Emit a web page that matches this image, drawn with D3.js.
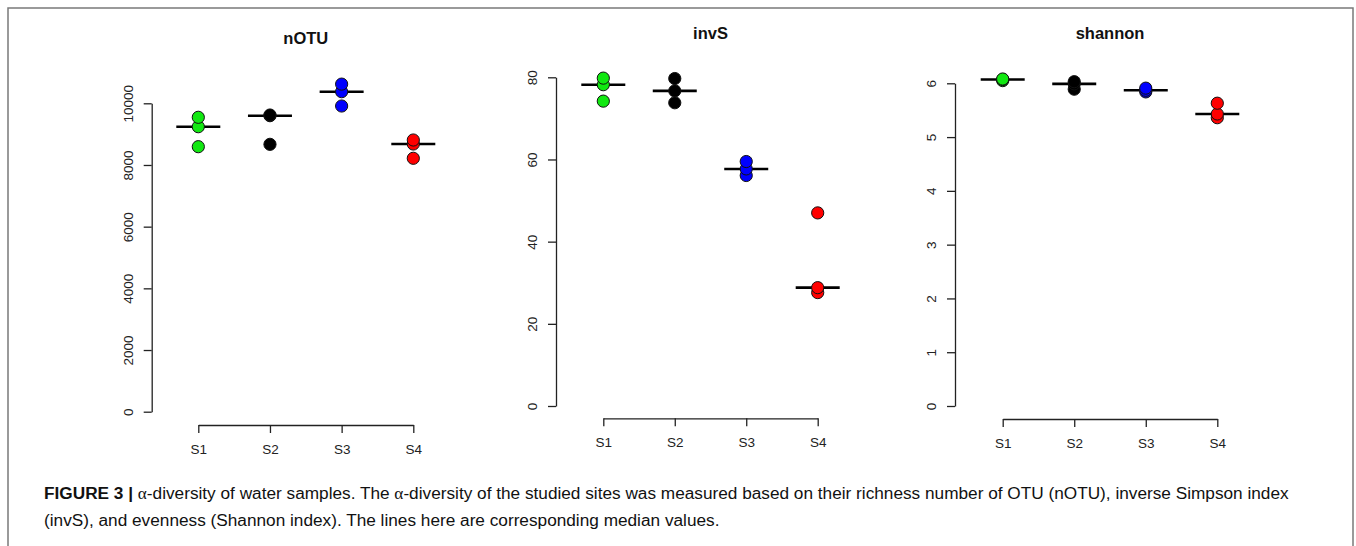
<!DOCTYPE html>
<html>
<head>
<meta charset="utf-8">
<script src="https://cdn.jsdelivr.net/npm/d3@7/dist/d3.min.js"></script>
<style>
  html, body { margin: 0; padding: 0; background: #fff; }
  svg { display: block; }
  text { font-family: "Liberation Sans", Arial, Helvetica, sans-serif; }
</style>
</head>
<body>
<svg id="chart" width="1356" height="546"></svg>
<script>
// ---- data ----
const sites = ["S1", "S2", "S3", "S4"];
const siteColors = ["#11e811", "#000000", "#0000ff", "#ff0000"];
const nOTUValues = [
  [9546, 9241, 8593],
  [9620, 9598, 8670],
  [10622, 10376, 9912],
  [8810, 8680, 8217]
];
const invSValues = [
  [79.8, 78.2, 74.2],
  [79.7, 76.7, 73.8],
  [59.5, 57.7, 56.1],
  [47.0, 28.8, 27.6]
];
const shannonValues = [
  [6.08, 6.07, 6.05],
  [6.03, 5.99, 5.89],
  [5.91, 5.87, 5.84],
  [5.63, 5.43, 5.36]
];
const nOTUTicks = [0, 2000, 4000, 6000, 8000, 10000];
const invSTicks = [0, 20, 40, 60, 80];
const shannonTicks = [0, 1, 2, 3, 4, 5, 6];
const panelTitles = ["nOTU", "invS", "shannon"];
const captionBold = "FIGURE 3 | ";
const captionLine1 = "-diversity of water samples. The ";
const captionLine1b = "-diversity of the studied sites was measured based on their richness number of OTU (nOTU), inverse Simpson index";
const captionLine2 = "(invS), and evenness (Shannon index). The lines here are corresponding median values.";

// ---- layout ----
const panels = [
  { title: panelTitles[0], values: nOTUValues, ticks: nOTUTicks,
    axisX: 151.7, y0: 411.7, yTop: 103.3, x1: 198.3, x2: 413.3, bottomY: 425, titleY: 38 },
  { title: panelTitles[1], values: invSValues, ticks: invSTicks,
    axisX: 556, y0: 406, yTop: 77.3, x1: 603.3, x2: 817.7, bottomY: 418.3, titleY: 33 },
  { title: panelTitles[2], values: shannonValues, ticks: shannonTicks,
    axisX: 955, y0: 406, yTop: 83.3, x1: 1002.7, x2: 1217.3, bottomY: 419, titleY: 33 }
];

const svg = d3.select("#chart");

// frame
svg.append("path")
  .attr("d", "M8,560 L8,8 L1353,8 L1353,560")
  .attr("fill", "none").attr("stroke", "#7a7a7a").attr("stroke-width", 1.5);

panels.forEach(p => {
  const g = svg.append("g");
  const x = d3.scalePoint().domain(sites).range([p.x1, p.x2]);
  const y = d3.scaleLinear().domain([0, d3.max(p.ticks)]).range([p.y0, p.yTop]);

  // y axis
  const ya = g.append("g").attr("transform", `translate(${p.axisX},0)`)
    .call(d3.axisLeft(y).tickValues(p.ticks).tickFormat(d => String(d)).tickSize(8).tickSizeOuter(0));
  ya.select(".domain").attr("stroke", "#222").attr("stroke-width", 1.3);
  ya.selectAll(".tick line").attr("stroke", "#222").attr("stroke-width", 1.3);
  ya.selectAll(".tick text")
    .attr("x", null).attr("dy", null)
    .attr("transform", "translate(-24,0) rotate(-90)")
    .attr("dy", "0.36em")
    .attr("text-anchor", "middle")
    .attr("font-size", 13.5).attr("fill", "#222")
    .style("font-family", "'Liberation Sans', Arial, sans-serif");

  // x axis
  const xa = g.append("g").attr("transform", `translate(0,${p.bottomY})`)
    .call(d3.axisBottom(x).tickSize(8).tickSizeOuter(0));
  xa.select(".domain").attr("stroke", "#222").attr("stroke-width", 1.3);
  xa.selectAll(".tick line").attr("stroke", "#222").attr("stroke-width", 1.3);
  xa.selectAll(".tick text")
    .attr("y", 24).attr("dy", "0.36em")
    .attr("font-size", 13.5).attr("fill", "#222")
    .style("font-family", "'Liberation Sans', Arial, sans-serif");

  // title
  g.append("text")
    .attr("x", (p.x1 + p.x2) / 2).attr("y", p.titleY).attr("dy", "0.35em")
    .attr("text-anchor", "middle").attr("font-weight", "bold").attr("font-size", 16.5)
    .attr("fill", "#111").text(p.title);

  // median lines
  g.selectAll("line.median").data(p.values).join("line")
    .attr("class", "median")
    .attr("x1", (d, i) => x(sites[i]) - 22)
    .attr("x2", (d, i) => x(sites[i]) + 22)
    .attr("y1", d => y(d3.median(d)))
    .attr("y2", d => y(d3.median(d)))
    .attr("stroke", "#000").attr("stroke-width", 2.6);

  // points
  const pts = [];
  p.values.forEach((vals, i) => {
    vals.slice().reverse().forEach(v => pts.push({ site: sites[i], v, c: siteColors[i] }));
  });
  g.selectAll("circle").data(pts).join("circle")
    .attr("cx", d => x(d.site))
    .attr("cy", d => y(d.v))
    .attr("r", 6.1)
    .attr("fill", d => d.c)
    .attr("stroke", "#111").attr("stroke-width", 1);
});

// caption
const cap = svg.append("g");
const t1 = cap.append("text").attr("x", 44).attr("y", 499).attr("font-size", 16).attr("fill", "#111");
t1.append("tspan").attr("font-weight", "bold").text(captionBold);
t1.append("tspan").style("font-family", "'Liberation Serif', 'Times New Roman', serif").text("α");
t1.append("tspan").text(captionLine1);
t1.append("tspan").style("font-family", "'Liberation Serif', 'Times New Roman', serif").text("α");
t1.append("tspan").text(captionLine1b);
const t2 = cap.append("text").attr("x", 44).attr("y", 526).attr("font-size", 16).attr("fill", "#111")
  .text(captionLine2);
// fit caption line 1 to reference width
const w1 = t1.node().getComputedTextLength();
const target = 1246;
const fs = 16 * target / w1;
t1.attr("font-size", fs);
t2.attr("font-size", fs);
</script>
</body>
</html>
